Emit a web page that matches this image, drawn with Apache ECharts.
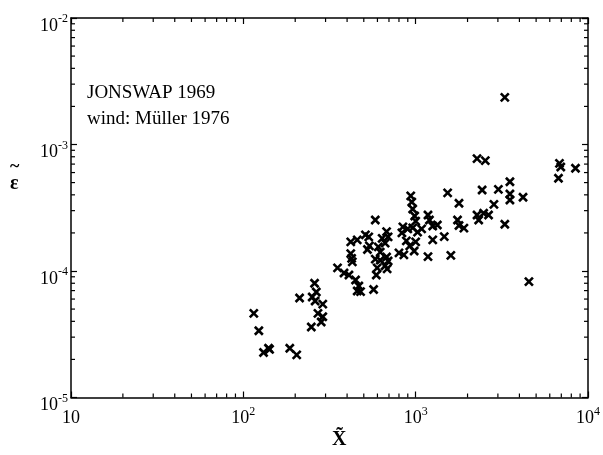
<!DOCTYPE html>
<html>
<head>
<meta charset="utf-8">
<script src="https://cdn.jsdelivr.net/npm/echarts@6/dist/echarts.min.js"></script>
<style>
  html, body { margin: 0; padding: 0; background: #fff; }
  #chart { width: 603px; height: 455px; }
</style>
</head>
<body>
<div id="chart"></div>
<script>
// Dimensionless fetch (x~) and dimensionless energy (epsilon~), JONSWAP 1969 runs
const fetchX = [
  115, 123, 131, 140, 142, 186, 204,
  212, 248, 259, 251, 265, 261, 289, 271, 289, 283,
  352, 384, 410, 448, 468, 458, 479, 570, 420, 458, 420, 425, 429,
  511, 534, 583, 678, 692, 639, 665, 525, 539, 607, 623, 583, 623,
  598, 591, 678, 692, 665, 683,
  936, 949, 961, 987, 1000, 843, 900, 832, 961, 1026, 1083,
  883, 924, 1000, 980, 800, 854,
  1179, 1202, 1256, 1336, 1256, 1465, 1179, 1600, 1533, 1784, 1749, 1784, 1905,
  2270, 2535, 2430, 3020, 3523, 3523, 3523, 4197, 2845, 2270, 2321, 2479, 2648,
  3290, 3290, 4541, 6740, 6830, 6950, 8460
];
const energy = [
  4.63e-5, 3.37e-5, 2.27e-5, 2.45e-5, 2.40e-5, 2.45e-5, 2.17e-5,
  6.12e-5, 3.61e-5, 8.00e-5, 6.23e-5, 6.82e-5, 5.79e-5, 5.48e-5, 4.63e-5, 4.35e-5, 3.95e-5,
  1.06e-4, 9.64e-5, 9.30e-5, 8.49e-5, 7.61e-5, 6.95e-5, 6.86e-5, 7.14e-5, 1.70e-4, 1.76e-4, 1.37e-4, 1.26e-4, 1.18e-4,
  1.93e-4, 1.86e-4, 2.53e-4, 2.05e-4, 1.86e-4, 1.81e-4, 1.66e-4, 1.48e-4, 1.58e-4, 1.55e-4, 1.41e-4, 1.24e-4, 1.22e-4,
  1.06e-4, 9.30e-5, 1.29e-4, 1.20e-4, 1.10e-4, 1.04e-4,
  3.92e-4, 3.51e-4, 3.09e-4, 2.72e-4, 2.48e-4, 2.23e-4, 2.15e-4, 2.00e-4, 2.19e-4, 2.03e-4, 2.15e-4,
  1.73e-4, 1.58e-4, 1.70e-4, 1.44e-4, 1.39e-4, 1.34e-4,
  2.77e-4, 2.53e-4, 2.27e-4, 2.31e-4, 1.76e-4, 1.87e-4, 1.30e-4, 1.33e-4, 4.14e-4, 3.43e-4, 2.53e-4, 2.29e-4, 2.18e-4,
  7.74e-4, 7.45e-4, 4.37e-4, 4.42e-4, 5.08e-4, 4.06e-4, 3.64e-4, 3.83e-4, 3.36e-4, 2.77e-4, 2.53e-4, 2.86e-4, 2.77e-4,
  2.34e-4, 2.36e-3, 8.23e-5, 5.41e-4, 7.10e-4, 6.64e-4, 6.49e-4
];

// Decade tick values and their labels (mantissa, exponent)
const xDecades = [10, 100, 1000, 10000];
const xDecadeLabels = [['10', ''], ['10', '2'], ['10', '3'], ['10', '4']];
const yDecades = [1e-5, 1e-4, 1e-3, 1e-2];
const yDecadeLabels = [['10', '-5'], ['10', '-4'], ['10', '-3'], ['10', '-2']];

// Minor ticks at 2..9 within each decade
const xMinorTicks = [20, 30, 40, 50, 60, 70, 80, 90, 200, 300, 400, 500, 600, 700, 800, 900,
  2000, 3000, 4000, 5000, 6000, 7000, 8000, 9000];
const yMinorTicks = [2e-5, 3e-5, 4e-5, 5e-5, 6e-5, 7e-5, 8e-5, 9e-5, 2e-4, 3e-4, 4e-4, 5e-4,
  6e-4, 7e-4, 8e-4, 9e-4, 2e-3, 3e-3, 4e-3, 5e-3, 6e-3, 7e-3, 8e-3, 9e-3];

const noteLines = ['JONSWAP 1969', 'wind: Müller 1976'];
const xName = 'X\u0303';
const yNameLetter = '\u03B5';
const nameTilde = '~';

const FONT = 'Liberation Serif';
const X_MIN = xDecades[0], X_MAX = xDecades[xDecades.length - 1];
const Y_MIN = yDecades[0], Y_MAX = yDecades[yDecades.length - 1];

function decadeLabel(values, labels) {
  return function (v) {
    const e = Math.round(Math.log10(v));
    const i = values.findIndex(d => Math.round(Math.log10(d)) === e);
    if (i < 0) return '';
    const [m, p] = labels[i];
    return p ? '{b|' + m + '}{sup|' + p + '}' : '{b|' + m + '}';
  };
}

const labelRich = {
  b: { fontFamily: FONT, fontSize: 18, color: '#000', lineHeight: 22, verticalAlign: 'bottom' },
  sup: { fontFamily: FONT, fontSize: 12, color: '#000', lineHeight: 22, verticalAlign: 'top' }
};

const axisLineStyle = { color: '#000', width: 1.5 };

function logAxis(min, max, extra) {
  return Object.assign({
    type: 'log',
    logBase: 10,
    min: min,
    max: max,
    splitLine: { show: false },
    axisLine: { show: true, lineStyle: axisLineStyle },
    axisTick: { show: true, inside: true, length: 6, lineStyle: { color: '#000', width: 1.2 } },
    minorTick: { show: false },
    minorSplitLine: { show: false }
  }, extra);
}

const tickData = xMinorTicks.map(v => [v, Y_MIN, 0]).concat(yMinorTicks.map(v => [X_MIN, v, 1]));

const chart = echarts.init(document.getElementById('chart'), null, { renderer: 'canvas' });

chart.setOption({
  backgroundColor: '#fff',
  animation: false,
  grid: { left: 71, right: 7, top: 18, bottom: 57.5 },
  xAxis: [
    logAxis(X_MIN, X_MAX, {
      position: 'bottom',
      axisLabel: { margin: 8, formatter: decadeLabel(xDecades, xDecadeLabels), rich: labelRich }
    }),
    logAxis(X_MIN, X_MAX, { position: 'top', axisLabel: { show: false } })
  ],
  yAxis: [
    logAxis(Y_MIN, Y_MAX, {
      position: 'left',
      axisLabel: {
        margin: 3,
        formatter: decadeLabel(yDecades, yDecadeLabels),
        rich: labelRich,
        verticalAlign: 'middle',
        padding: [12, 0, 0, 0]
      }
    }),
    logAxis(Y_MIN, Y_MAX, { position: 'right', axisLabel: { show: false } })
  ],
  graphic: [
    {
      type: 'text', left: 87, top: 80,
      style: { text: noteLines.join('\n'), fontFamily: FONT, fontSize: 19, lineHeight: 26, fill: '#000' }
    },
    {
      type: 'text', left: 332, top: 430,
      style: { text: xName, fontFamily: FONT, fontSize: 20, fontWeight: 'bold', fill: '#000' }
    },
    {
      type: 'text', left: 10, top: 174,
      style: { text: yNameLetter, fontFamily: FONT, fontSize: 20, fontWeight: 'bold', fill: '#000' }
    },
    {
      type: 'text', left: 10, top: 158,
      style: { text: nameTilde, fontFamily: FONT, fontSize: 18, fontWeight: 'bold', fill: '#000' }
    }
  ],
  series: [
    {
      type: 'custom',
      silent: true,
      clip: false,
      xAxisIndex: 0,
      yAxisIndex: 0,
      data: tickData,
      renderItem: function (params, api) {
        const kind = api.value(2);
        const st = { stroke: '#000', lineWidth: 1.2 };
        if (kind === 0) {
          const b = api.coord([api.value(0), Y_MIN]);
          const t = api.coord([api.value(0), Y_MAX]);
          return { type: 'group', children: [
            { type: 'line', shape: { x1: b[0], y1: b[1], x2: b[0], y2: b[1] - 4 }, style: st },
            { type: 'line', shape: { x1: t[0], y1: t[1], x2: t[0], y2: t[1] + 4 }, style: st }
          ] };
        }
        const l = api.coord([X_MIN, api.value(1)]);
        const r = api.coord([X_MAX, api.value(1)]);
        return { type: 'group', children: [
          { type: 'line', shape: { x1: l[0], y1: l[1], x2: l[0] + 4, y2: l[1] }, style: st },
          { type: 'line', shape: { x1: r[0], y1: r[1], x2: r[0] - 4, y2: r[1] }, style: st }
        ] };
      }
    },
    {
      type: 'scatter',
      xAxisIndex: 0,
      yAxisIndex: 0,
      data: fetchX.map((x, i) => [x, energy[i]]),
      symbol: 'path://M0,0L10,10M10,0L0,10',
      symbolSize: 8,
      itemStyle: { color: 'rgba(0,0,0,0)', borderColor: '#000', borderWidth: 2.6, opacity: 1 }
    }
  ]
});
</script>
</body>
</html>
